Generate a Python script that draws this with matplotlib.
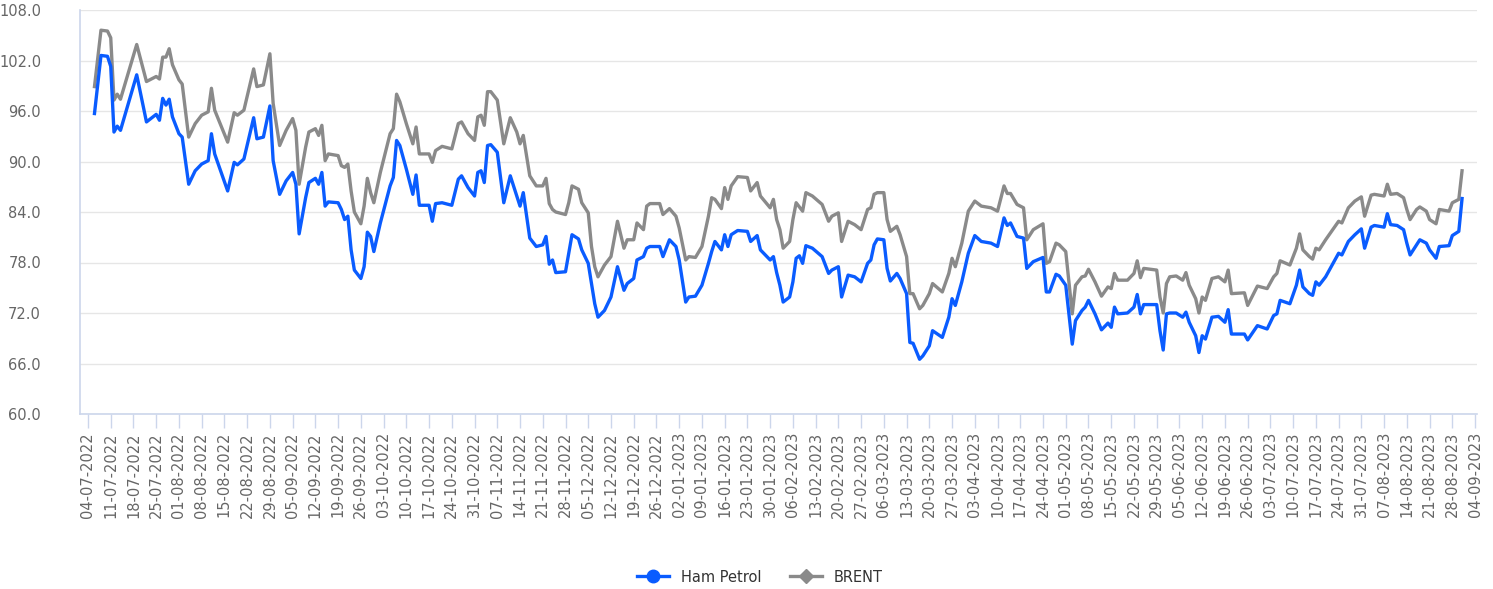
"""
Ham Petrol vs BRENT daily price chart.
"""

import pandas as pd
import matplotlib.pyplot as plt
import matplotlib.dates as mdates
from matplotlib.lines import Line2D

dates = [
    "2022-07-06", "2022-07-08", "2022-07-10", "2022-07-11", "2022-07-12", "2022-07-13", "2022-07-14",
    "2022-07-19", "2022-07-22", "2022-07-25", "2022-07-26", "2022-07-27", "2022-07-28", "2022-07-29",
    "2022-07-30",
    "2022-08-01", "2022-08-02", "2022-08-04", "2022-08-06", "2022-08-08", "2022-08-10", "2022-08-11",
    "2022-08-12", "2022-08-16", "2022-08-18", "2022-08-19", "2022-08-21", "2022-08-24", "2022-08-25",
    "2022-08-27", "2022-08-29", "2022-08-30",
    "2022-09-01", "2022-09-03", "2022-09-05", "2022-09-06", "2022-09-07", "2022-09-09", "2022-09-10",
    "2022-09-12", "2022-09-13", "2022-09-14", "2022-09-15", "2022-09-16", "2022-09-19", "2022-09-20",
    "2022-09-21", "2022-09-22", "2022-09-23", "2022-09-24", "2022-09-26", "2022-09-27", "2022-09-28",
    "2022-09-29", "2022-09-30",
    "2022-10-02", "2022-10-05", "2022-10-06", "2022-10-07", "2022-10-08", "2022-10-10", "2022-10-12",
    "2022-10-13", "2022-10-14", "2022-10-17", "2022-10-18", "2022-10-19", "2022-10-21", "2022-10-24",
    "2022-10-26", "2022-10-27", "2022-10-29", "2022-10-31",
    "2022-11-01", "2022-11-02", "2022-11-03", "2022-11-04", "2022-11-05", "2022-11-07", "2022-11-09",
    "2022-11-11", "2022-11-13", "2022-11-14", "2022-11-15", "2022-11-17", "2022-11-19", "2022-11-21",
    "2022-11-22", "2022-11-23", "2022-11-24", "2022-11-25", "2022-11-28", "2022-11-29", "2022-11-30",
    "2022-12-02", "2022-12-03", "2022-12-05", "2022-12-06", "2022-12-07", "2022-12-08", "2022-12-10",
    "2022-12-12", "2022-12-14", "2022-12-16", "2022-12-17", "2022-12-19", "2022-12-20", "2022-12-22",
    "2022-12-23", "2022-12-24", "2022-12-27", "2022-12-28", "2022-12-30",
    "2023-01-01", "2023-01-02", "2023-01-04", "2023-01-05", "2023-01-07", "2023-01-09", "2023-01-11",
    "2023-01-12", "2023-01-13", "2023-01-15", "2023-01-16", "2023-01-17", "2023-01-18", "2023-01-20",
    "2023-01-23", "2023-01-24", "2023-01-26", "2023-01-27", "2023-01-30", "2023-01-31",
    "2023-02-01", "2023-02-02", "2023-02-03", "2023-02-05", "2023-02-06", "2023-02-07", "2023-02-08",
    "2023-02-09", "2023-02-10", "2023-02-12", "2023-02-15", "2023-02-17", "2023-02-18", "2023-02-20",
    "2023-02-21", "2023-02-23", "2023-02-25", "2023-02-27",
    "2023-03-01", "2023-03-02", "2023-03-03", "2023-03-04", "2023-03-06", "2023-03-07", "2023-03-08",
    "2023-03-10", "2023-03-11", "2023-03-13", "2023-03-14", "2023-03-15", "2023-03-17", "2023-03-18",
    "2023-03-20", "2023-03-21", "2023-03-24", "2023-03-26", "2023-03-27", "2023-03-28", "2023-03-30",
    "2023-04-01", "2023-04-03", "2023-04-05", "2023-04-08", "2023-04-10", "2023-04-12", "2023-04-13",
    "2023-04-14", "2023-04-16", "2023-04-18", "2023-04-19", "2023-04-21", "2023-04-24", "2023-04-25",
    "2023-04-26", "2023-04-28", "2023-04-29",
    "2023-05-01", "2023-05-03", "2023-05-04", "2023-05-06", "2023-05-07", "2023-05-08", "2023-05-10",
    "2023-05-12", "2023-05-14", "2023-05-15", "2023-05-16", "2023-05-17", "2023-05-20", "2023-05-22",
    "2023-05-23", "2023-05-24", "2023-05-25", "2023-05-29", "2023-05-30", "2023-05-31",
    "2023-06-01", "2023-06-02", "2023-06-04", "2023-06-06", "2023-06-07", "2023-06-08", "2023-06-10",
    "2023-06-11", "2023-06-12", "2023-06-13", "2023-06-15", "2023-06-17", "2023-06-19", "2023-06-20",
    "2023-06-21", "2023-06-25", "2023-06-26", "2023-06-29",
    "2023-07-02", "2023-07-04", "2023-07-05", "2023-07-06", "2023-07-09", "2023-07-11", "2023-07-12",
    "2023-07-13", "2023-07-15", "2023-07-16", "2023-07-17", "2023-07-18", "2023-07-20", "2023-07-24",
    "2023-07-25", "2023-07-27", "2023-07-29", "2023-07-31",
    "2023-08-01", "2023-08-03", "2023-08-04", "2023-08-07", "2023-08-08", "2023-08-09", "2023-08-11",
    "2023-08-13", "2023-08-14", "2023-08-15", "2023-08-17", "2023-08-18", "2023-08-20", "2023-08-21",
    "2023-08-23", "2023-08-24", "2023-08-27", "2023-08-28", "2023-08-30", "2023-08-31",
]

ham_petrol = [
    95.7, 102.6, 102.5, 101.3, 93.5, 94.2, 93.7,
    100.3, 94.7, 95.6, 94.9, 97.5, 96.7, 97.4,
    95.3,
    93.3, 92.9, 87.3, 88.9, 89.7, 90.1, 93.3,
    90.9, 86.5, 89.9, 89.6, 90.3, 95.2, 92.7,
    92.9, 96.6, 90.1,
    86.1, 87.7, 88.7, 87.3, 81.4, 85.7, 87.5,
    88.0, 87.3, 88.7, 84.7, 85.2, 85.1, 84.3,
    83.1, 83.5, 79.5, 77.1, 76.1, 77.5, 81.6,
    81.1, 79.3,
    82.7, 87.1, 88.1, 92.5, 91.9, 89.1, 86.1,
    88.4, 84.8, 84.8, 82.9, 85.0, 85.1, 84.8,
    87.9, 88.3, 86.9, 85.9,
    88.7, 88.9, 87.5, 91.9, 92.0, 91.1, 85.1,
    88.3, 85.9, 84.7, 86.3, 80.9, 79.9, 80.1,
    81.1, 77.8, 78.3, 76.8, 76.9, 79.1, 81.3,
    80.8, 79.5, 77.9, 75.5, 73.1, 71.5, 72.3,
    73.9, 77.5, 74.7, 75.5, 76.1, 78.3, 78.7,
    79.7, 79.9, 79.9, 78.7, 80.7,
    79.9, 78.3, 73.3, 73.9, 74.0, 75.3, 77.9,
    79.3, 80.5, 79.5, 81.3, 79.9, 81.3, 81.8,
    81.7, 80.5, 81.2, 79.5, 78.3, 78.7,
    76.8, 75.3, 73.3, 73.9, 75.7, 78.5, 78.8,
    77.9, 80.0, 79.7, 78.7, 76.7, 77.1, 77.5,
    73.9, 76.5, 76.3, 75.7,
    77.9, 78.3, 80.1, 80.8, 80.7, 77.3, 75.8,
    76.7, 76.1, 74.3, 68.5, 68.4, 66.5, 66.9,
    68.1, 69.9, 69.1, 71.5, 73.7, 72.9, 75.7,
    79.1, 81.2, 80.5, 80.3, 79.9, 83.3, 82.4,
    82.7, 81.1, 80.9, 77.3, 78.1, 78.6, 74.5,
    74.5, 76.6, 76.4,
    75.3, 68.3, 71.1, 72.3, 72.7, 73.5, 71.9,
    70.0, 70.8, 70.3, 72.7, 71.9, 72.0, 72.7,
    74.2, 71.9, 73.0, 73.0, 69.9, 67.6,
    71.9, 72.0, 72.0, 71.5, 72.1, 70.9, 69.3,
    67.3, 69.3, 68.9, 71.5, 71.6, 70.9, 72.4,
    69.5, 69.5, 68.8, 70.5,
    70.1, 71.7, 71.9, 73.5, 73.1, 75.3, 77.1,
    75.1, 74.3, 74.1, 75.7, 75.3, 76.3, 79.1,
    78.9, 80.5, 81.3, 82.0,
    79.7, 82.2, 82.4, 82.2, 83.8, 82.5, 82.4,
    81.9, 80.3, 78.9, 80.1, 80.7, 80.3, 79.5,
    78.5, 79.9, 80.0, 81.2, 81.7, 85.6,
]

brent = [
    98.9, 105.6, 105.5, 104.7, 97.3, 98.0, 97.4,
    103.9, 99.5, 100.1, 99.8, 102.4, 102.4, 103.4,
    101.5,
    99.7, 99.2, 92.9, 94.5, 95.5, 95.9, 98.7,
    96.1, 92.3, 95.8, 95.5, 96.1, 101.0, 98.9,
    99.1, 102.8, 96.9,
    91.9, 93.7, 95.1, 93.7, 87.3, 91.7, 93.5,
    93.9, 93.1, 94.3, 90.1, 90.9, 90.7, 89.5,
    89.3, 89.7, 86.5, 84.0, 82.6, 84.7, 88.0,
    86.3, 85.1,
    88.7, 93.3, 93.9, 98.0, 97.1, 94.5, 92.1,
    94.1, 90.9, 90.9, 89.9, 91.3, 91.8, 91.5,
    94.5, 94.7, 93.3, 92.5,
    95.3, 95.5, 94.3, 98.3, 98.3, 97.3, 92.1,
    95.2, 93.5, 92.1, 93.1, 88.3, 87.1, 87.1,
    88.0, 85.0, 84.3, 84.0, 83.7, 85.1, 87.1,
    86.7, 85.1, 83.9, 79.9, 77.5, 76.3, 77.7,
    78.7, 82.9, 79.7, 80.7, 80.7, 82.7, 81.9,
    84.7, 85.0, 85.0, 83.7, 84.4,
    83.5, 82.1, 78.3, 78.7, 78.6, 79.9, 83.5,
    85.7, 85.5, 84.4, 86.9, 85.5, 87.1, 88.2,
    88.1, 86.5, 87.5, 85.9, 84.5, 85.5,
    83.1, 81.9, 79.7, 80.5, 83.1, 85.1, 84.6,
    84.1, 86.3, 85.9, 84.9, 82.9, 83.5, 83.9,
    80.5, 82.9, 82.5, 81.9,
    84.3, 84.5, 86.1, 86.3, 86.3, 83.1, 81.7,
    82.3, 81.3, 78.7, 74.3, 74.3, 72.5, 72.9,
    74.3, 75.5, 74.5, 76.7, 78.5, 77.5, 80.3,
    84.1, 85.3, 84.7, 84.5, 84.1, 87.1, 86.2,
    86.2, 84.9, 84.5, 80.7, 81.9, 82.6, 77.9,
    78.1, 80.3, 80.1,
    79.3, 71.9, 75.3, 76.3, 76.4, 77.2, 75.7,
    74.0, 75.1, 74.9, 76.7, 75.9, 75.9, 76.7,
    78.2, 76.2, 77.3, 77.1, 73.9, 72.0,
    75.5, 76.3, 76.4, 75.9, 76.8, 75.3, 73.7,
    72.0, 73.9, 73.5, 76.1, 76.3, 75.7, 77.1,
    74.3, 74.4, 72.9, 75.2,
    74.9, 76.3, 76.7, 78.2, 77.7, 79.7, 81.4,
    79.5, 78.7, 78.4, 79.7, 79.5, 80.7, 82.9,
    82.7, 84.5, 85.3, 85.8,
    83.5, 86.0, 86.1, 85.9, 87.3, 86.1, 86.2,
    85.7, 84.3, 83.1, 84.3, 84.6, 84.1, 83.1,
    82.6, 84.3, 84.1, 85.1, 85.5, 88.9,
]

y_ticks = [60, 66, 72, 78, 84, 90, 96, 102, 108]

BLUE = "#0a5cff"
GREY = "#8a8a8a"
AXIS = "#ccd6eb"
TEXT = "#666666"


def main():
    x = pd.to_datetime(dates)

    fig = plt.figure(figsize=(14.93, 5.89), dpi=100)
    ax = fig.add_axes([80 / 1493, 1 - 414 / 589, (1477 - 80) / 1493, 404 / 589])

    ax.plot(x, brent, color=GREY, lw=2.4, solid_joinstyle="round", zorder=3)
    ax.plot(x, ham_petrol, color=BLUE, lw=2.4, solid_joinstyle="round", zorder=4)

    start = pd.Timestamp("2022-07-04")
    ax.set_xlim(start - pd.Timedelta(days=2.46), start + pd.Timedelta(days=427.6))
    ax.set_ylim(60, 108)

    ax.set_yticks(y_ticks)
    ax.set_yticklabels([f"{v:.1f}" for v in y_ticks])
    ax.grid(axis="y", color="#e6e6e6", lw=1)
    ax.set_axisbelow(True)

    ticks = pd.date_range("2022-07-04", "2023-09-04", freq="7D")
    ax.set_xticks(ticks)
    ax.xaxis.set_major_formatter(mdates.DateFormatter("%d-%m-%Y"))
    ax.tick_params(axis="x", rotation=90, length=10, width=1, color=AXIS,
                   labelsize=10.5, labelcolor=TEXT, pad=3)
    ax.tick_params(axis="y", length=0, labelsize=10.5, labelcolor=TEXT, pad=28)

    for side in ["top", "right"]:
        ax.spines[side].set_visible(False)
    for side in ["left", "bottom"]:
        ax.spines[side].set_color(AXIS)
        ax.spines[side].set_linewidth(1.2)

    handles = [
        Line2D([], [], color=BLUE, lw=2.4, marker="o", markersize=9),
        Line2D([], [], color=GREY, lw=2.4, marker="D", markersize=7),
    ]
    fig.legend(handles, ["Ham Petrol", "BRENT"], loc="center",
               bbox_to_anchor=(760 / 1493, 1 - 577 / 589), ncol=2, frameon=False,
               fontsize=10.5, handlelength=2.2, columnspacing=2.0,
               labelcolor="#333333")

    fig.savefig("out.png", dpi=100)
    plt.close(fig)


if __name__ == "__main__":
    main()
